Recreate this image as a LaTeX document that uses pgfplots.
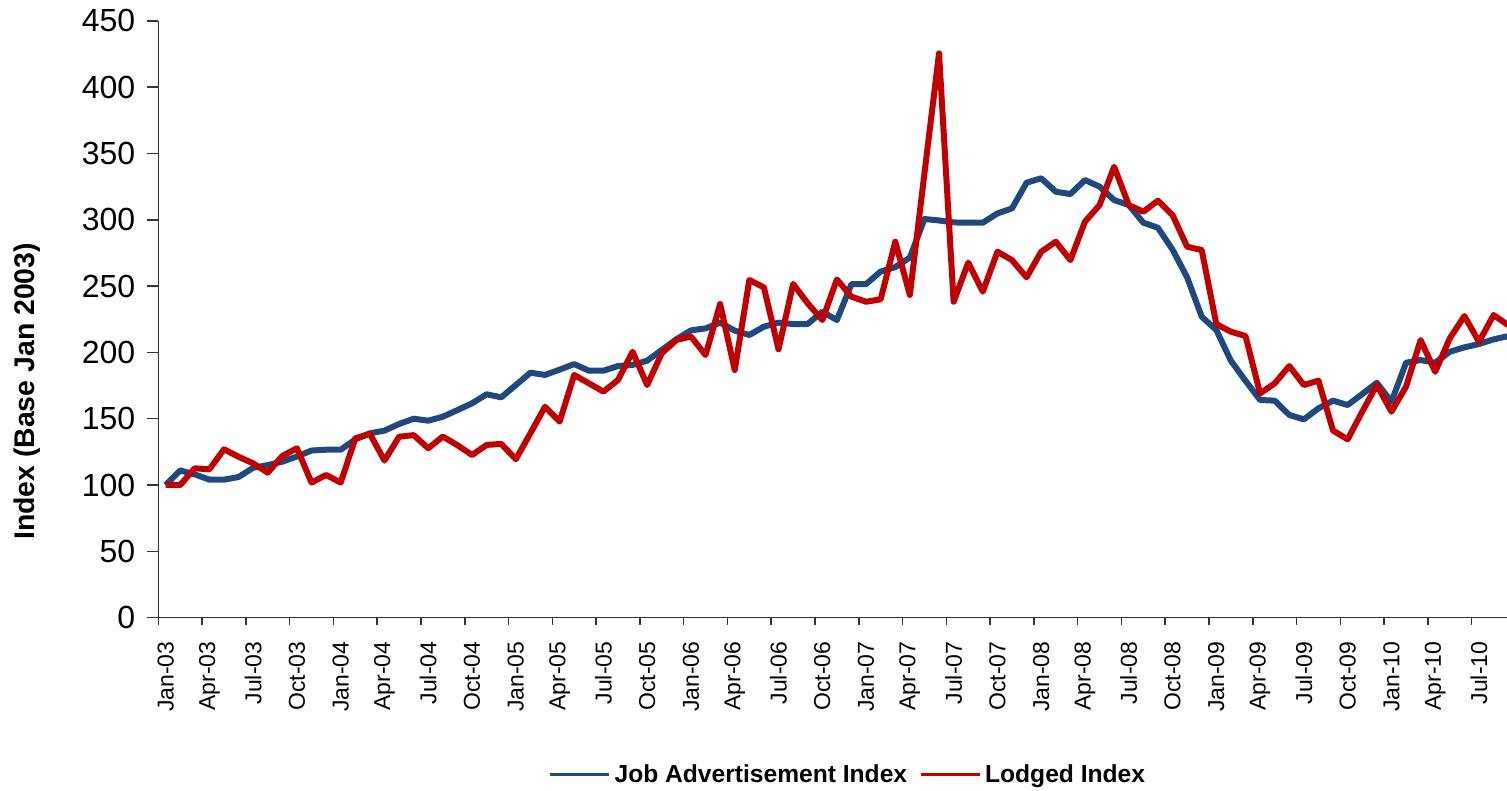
\documentclass[border=0pt]{standalone}
\usepackage{fontspec}
\setmainfont{Liberation Sans}
\usepackage{pgfplots}
\usepackage{pgfplotstable}
\pgfplotsset{compat=1.18}
\definecolor{jobblue}{RGB}{31,73,125}
\definecolor{lodgedred}{RGB}{192,0,0}
\pgfplotstableread{
m job lodged
0 100 100
1 111 100
2 108 112.6
3 104 111.8
4 104 126.9
5 106 121.3
6 113 116.3
7 115 109.3
8 117.6 121.9
9 121.5 127.7
10 126 101.8
11 126.6 107.6
12 126.6 101.8
13 134.4 135.2
14 139 138.5
15 141 118.4
16 146 136.4
17 150 137.6
18 148.5 127.7
19 151.5 136.5
20 156.5 130
21 161.6 122.6
22 168.4 130.2
23 166.1 131
24 175.4 119.4
25 184.7 139
26 183 159
27 187 147.8
28 191.2 183
29 186.2 176.7
30 186.2 170.4
31 189.7 179.2
32 190.5 200.5
33 193.8 175.4
34 201.8 199.3
35 209.9 209.3
36 216.6 212
37 218.1 198
38 222.4 236.5
39 216.4 186.7
40 213.1 254.6
41 219.4 249
42 222.4 202.3
43 221.4 251.6
44 221.4 237
45 230.7 224.4
46 224.4 255
47 251.5 242
48 251.5 238.2
49 261 240
50 264.3 283.5
51 271.5 243.3
52 300.6 335
53 299.5 425.5
54 298 238.2
55 297.8 267.7
56 297.8 245.8
57 304.8 275.9
58 308.6 269.6
59 328 256.6
60 331.3 275.9
61 321.2 283.5
62 319.4 269.6
63 330 298.6
64 325 311.1
65 314.9 340
66 311.1 311.1
67 297.8 306.1
68 294 314.4
69 277.5 303.6
70 256.6 279.7
71 226.9 277.2
72 216.9 221.4
73 193.7 215.6
74 178.6 212.4
75 164.1 169.1
76 163.6 176.6
77 152.8 189.7
78 149.5 175.4
79 157.8 178.7
80 163.6 141
81 160.3 134.4
82 168.6 155.3
83 177.1 175.4
84 162.8 155.3
85 192.2 174.1
86 194.2 209.3
87 192.2 185.4
88 200.5 210.6
89 203.8 227.4
90 206.3 208
91 209.8 228.2
92 212.3 220.6
}\datatable
\begin{document}
\begin{tikzpicture}
\begin{axis}[
  name=ax,
  scale only axis,
  width=674.35pt, height=298.35pt,
  xmin=-0.5, xmax=91.92,
  ymin=0, ymax=450,
  axis x line*=bottom, axis y line*=left,
  axis line style={draw=black!80, line width=0.75pt},
  clip=true,
  tick align=outside,
  major tick length=5.5pt,
  ytick={0,50,...,450},
  ytick style={draw=black!80, line width=0.75pt},
  xtick={0,3,...,90},
  xticklabels={Jan-03,Apr-03,Jul-03,Oct-03,Jan-04,Apr-04,Jul-04,Oct-04,Jan-05,Apr-05,Jul-05,Oct-05,Jan-06,Apr-06,Jul-06,Oct-06,Jan-07,Apr-07,Jul-07,Oct-07,Jan-08,Apr-08,Jul-08,Oct-08,Jan-09,Apr-09,Jul-09,Oct-09,Jan-10,Apr-10,Jul-10},
  xtick style={draw=none},
  extra x ticks={-0.5,2.5,...,89.5},
  extra x tick labels={},
  extra x tick style={xtick style={draw=black!80, line width=0.75pt}, major tick length=3.5pt},
  x tick label style={rotate=90, anchor=east, font=\fontsize{11.5}{13}\selectfont},
  xticklabel shift=3pt,
  y tick label style={font=\fontsize{16}{19}\selectfont},
  yticklabel shift=2.5pt,
  /pgf/number format/assume math mode=true,
  ylabel={Index (Base Jan 2003)},
  ylabel style={at={(axis description cs:-0.097,0.379)}, anchor=center, font=\bfseries\fontsize{14.2}{17}\selectfont},
  legend columns=2,
  legend style={at={(0.512,-0.2638)}, anchor=center, draw=none, fill=none,
    font=\bfseries\fontsize{12.3}{14}\selectfont,
    /tikz/every even column/.append style={column sep=4pt}},
  legend image code/.code={\draw[#1, line width=1.5pt] (0pt,0pt) -- (29.5pt,0pt);},
]
\addplot[jobblue, line width=3pt, line join=round] table[x=m, y=job] {\datatable};
\addlegendentry{Job Advertisement Index}
\addplot[lodgedred, line width=3pt, line join=round] table[x=m, y=lodged] {\datatable};
\addlegendentry{Lodged Index}
\end{axis}
\pgfresetboundingbox
\path[use as bounding box] ([xshift=-79.15pt, yshift=-86.7pt]ax.south west) rectangle ([yshift=10.45pt]ax.north east);
\end{tikzpicture}
\end{document}
